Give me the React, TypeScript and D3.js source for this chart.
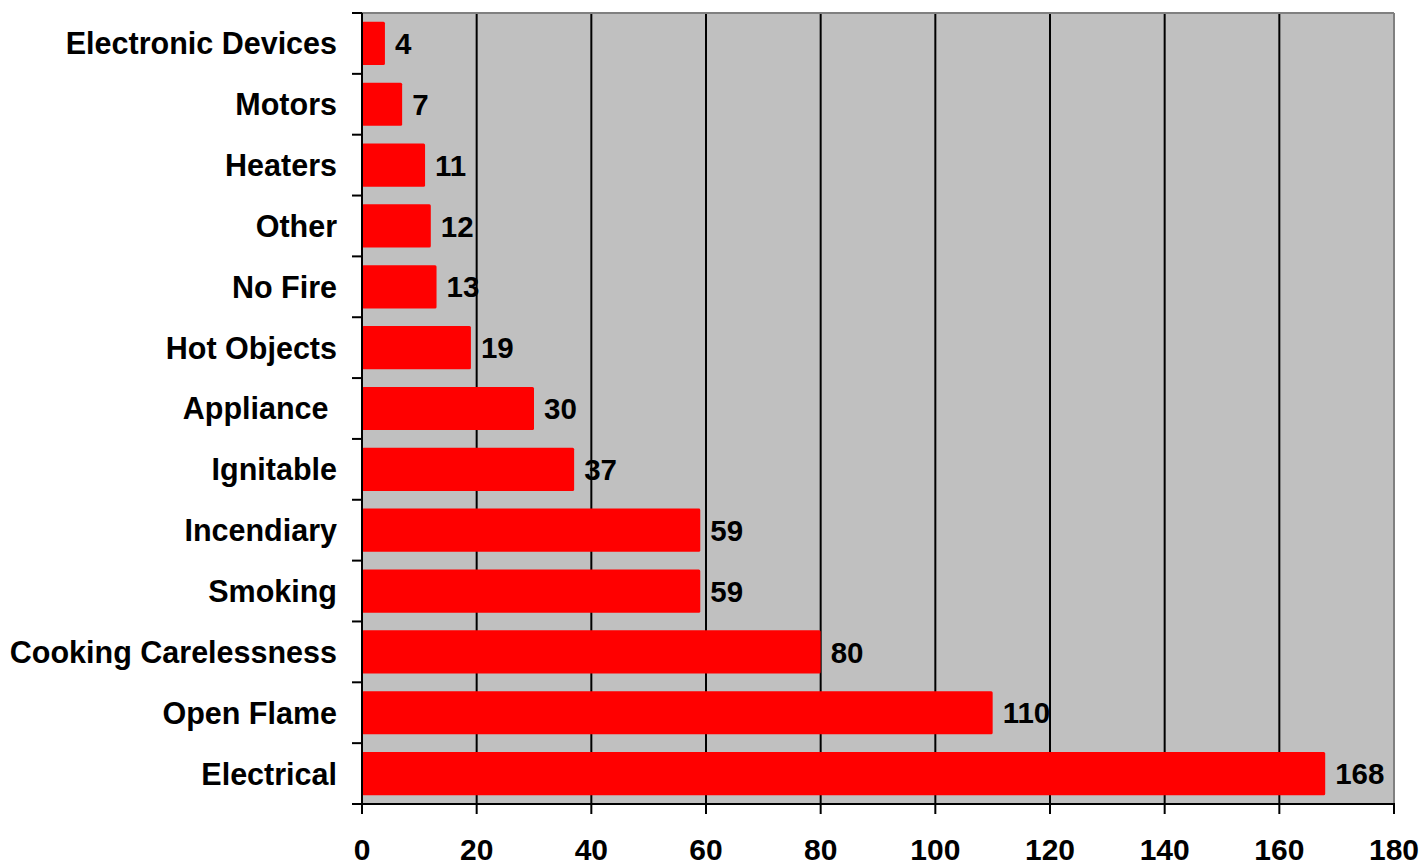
import React from 'react';
import * as d3 from 'd3';

// categories top to bottom
const categories = [
  'Electronic Devices',
  'Motors',
  'Heaters',
  'Other',
  'No Fire',
  'Hot Objects',
  'Appliance ',
  'Ignitable',
  'Incendiary',
  'Smoking',
  'Cooking Carelessness',
  'Open Flame',
  'Electrical',
];
const values = [4, 7, 11, 12, 13, 19, 30, 37, 59, 59, 80, 110, 168];
const xTicks = [0, 20, 40, 60, 80, 100, 120, 140, 160, 180];

const W = 1424;
const H = 865;
const left = 362;
const right = 1394;
const top = 13;
const bottom = 804;
const font = '"Liberation Sans", Arial, sans-serif';

const App: React.FC = () => {
  const x = d3.scaleLinear().domain([0, 180]).range([left, right]);
  const y = d3.scaleBand<string>()
    .domain(categories)
    .range([top, bottom])
    .paddingInner(0.29)
    .paddingOuter(0.145);
  const step = y.step();

  return (
    <svg width={W} height={H} style={{ position: 'absolute', left: 0, top: 0 }} fontFamily={font}>
      <rect x={0} y={0} width={W} height={H} fill="#fff" />
      {/* plot background */}
      <rect x={left} y={top} width={right - left} height={bottom - top} fill="#C0C0C0" />

      {/* grid lines */}
      {xTicks.filter(t => t > 0 && t < 180).map(t => (
        <line key={t} x1={x(t)} x2={x(t)} y1={top} y2={bottom} stroke="#000" strokeWidth={2} />
      ))}

      {/* gray border top and right */}
      <line x1={left} x2={right} y1={top} y2={top} stroke="#808080" strokeWidth={2} />
      <line x1={right} x2={right} y1={top} y2={bottom} stroke="#808080" strokeWidth={2} />

      {/* bars */}
      {categories.map((c, i) => (
        <rect
          key={c}
          x={x(0)}
          y={y(c)!}
          width={x(values[i]) - x(0)}
          height={y.bandwidth()}
          fill="#FF0000"
          rx={1.5}
        />
      ))}

      {/* value labels */}
      {categories.map((c, i) => (
        <text
          key={c}
          x={x(values[i]) + 10}
          y={y(c)! + y.bandwidth() / 2}
          dy="0.36em"
          fontSize={29.5}
          fontWeight="bold"
          fill="#000"
        >
          {values[i]}
        </text>
      ))}

      {/* left axis */}
      <line x1={left} x2={left} y1={top} y2={bottom + 1} stroke="#000" strokeWidth={2} />
      {d3.range(categories.length + 1).map(i => (
        <line key={i} x1={left - 10} x2={left} y1={top + i * step} y2={top + i * step} stroke="#000" strokeWidth={2} />
      ))}
      {categories.map(c => (
        <text
          key={c}
          x={left - 25}
          y={y(c)! + y.bandwidth() / 2}
          dy="0.36em"
          textAnchor="end"
          fontSize={30.5}
          fontWeight="bold"
          fill="#000"
          style={{ whiteSpace: 'pre' }}
        >
          {c}
        </text>
      ))}

      {/* bottom axis */}
      <line x1={left - 1} x2={right + 1} y1={bottom} y2={bottom} stroke="#000" strokeWidth={2} />
      {xTicks.map(t => (
        <g key={t}>
          <line x1={x(t)} x2={x(t)} y1={bottom} y2={bottom + 10} stroke="#000" strokeWidth={2} />
          <text x={x(t)} y={860} textAnchor="middle" fontSize={30} fontWeight="bold" fill="#000">
            {t}
          </text>
        </g>
      ))}
    </svg>
  );
};

export default App;
